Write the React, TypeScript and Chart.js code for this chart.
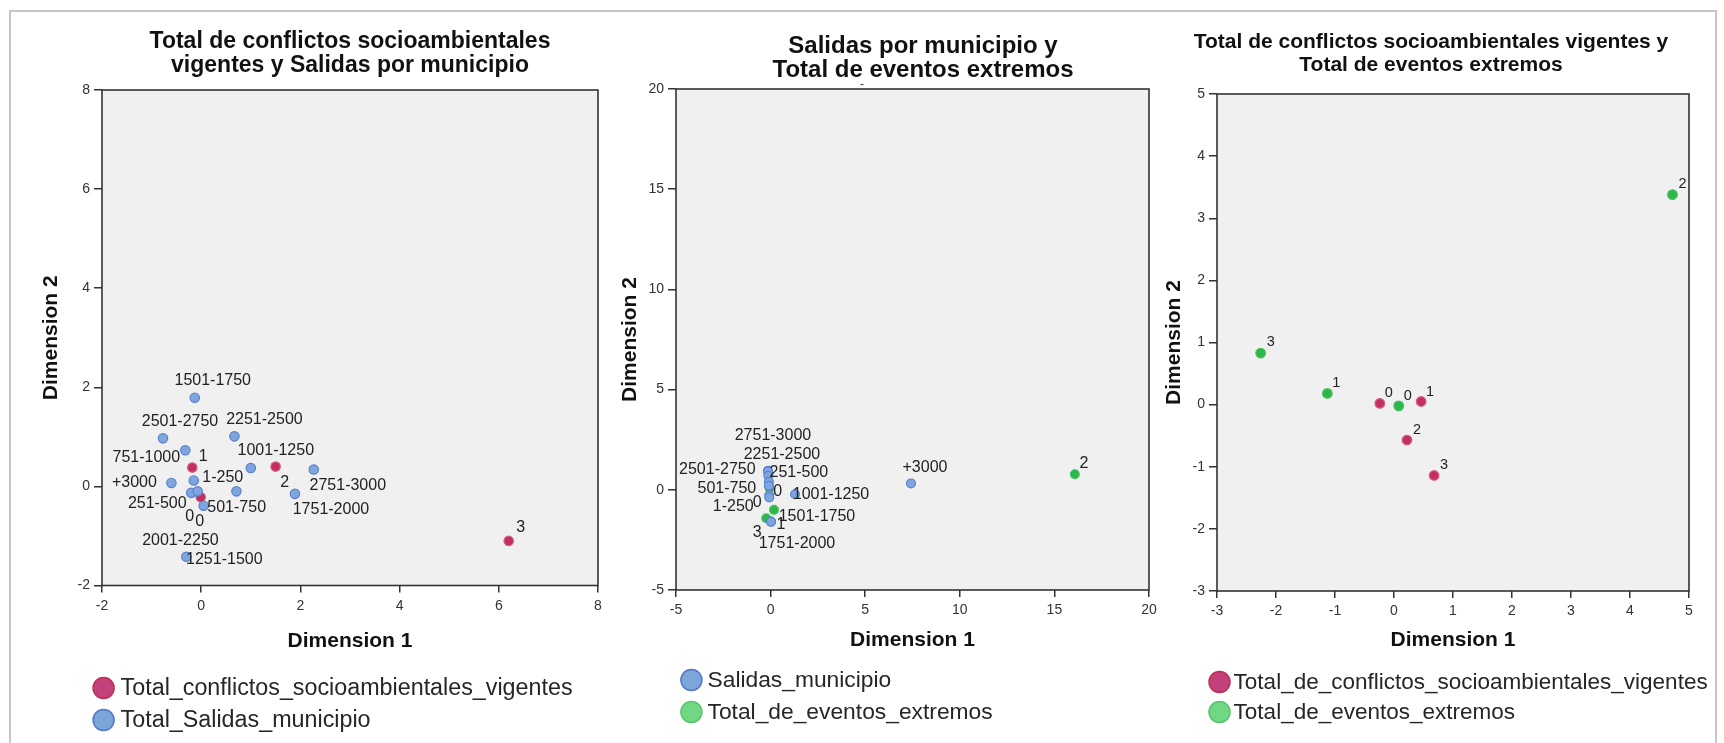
import React, { useEffect, useRef } from "react";
import { Chart, registerables } from "chart.js";

Chart.register(...registerables);

const FONT = "'Liberation Sans', Arial, sans-serif";

// ---------- Panel 1: Total de conflictos socioambientales vigentes y Salidas por municipio
const p1Title = ["Total de conflictos socioambientales", "vigentes y Salidas por municipio"];
const p1ConflictosNames = ["1", "2", "0", "3"];
const p1ConflictosX = [-0.18, 1.5, -0.01, 6.2];
const p1ConflictosY = [0.38, 0.4, -0.22, -1.1];
const p1SalidasNames = ["1501-1750", "2501-2750", "2251-2500", "751-1000", "1001-1250", "2751-3000", "+3000", "1-250", "251-500", "0", "501-750", "1751-2000", "2001-2250", "1251-1500"];
const p1SalidasX = [-0.13, -0.77, 0.67, -0.32, 1.0, 2.27, -0.6, -0.15, -0.2, -0.07, 0.05, 1.89, 0.71, -0.3];
const p1SalidasY = [1.79, 0.97, 1.01, 0.73, 0.37, 0.34, 0.07, 0.12, -0.13, -0.1, -0.39, -0.15, -0.1, -1.42];
const p1XTicks = { min: -2, max: 8, step: 2 };
const p1YTicks = { min: -2, max: 8, step: 2 };

// ---------- Panel 2: Salidas por municipio y Total de eventos extremos
const p2Title = ["Salidas por municipio y", "Total de eventos extremos"];
const p2SalidasNames = ["2251-2500", "2751-3000", "2501-2750", "251-500", "501-750", "1-250", "0", "1001-1250", "1501-1750", "1751-2000", "+3000"];
const p2SalidasX = [-0.14, -0.14, -0.12, -0.09, -0.09, -0.07, -0.07, 1.29, 0.02, 0.02, 7.42];
const p2SalidasY = [0.95, 0.92, 0.7, 0.4, 0.2, -0.27, -0.38, -0.22, -1.58, -1.6, 0.32];
const p2EventosNames = ["0", "1", "3", "2"];
const p2EventosX = [-0.05, 0.18, -0.23, 16.08];
const p2EventosY = [0.08, -1.0, -1.42, 0.78];
const p2XTicks = { min: -5, max: 20, step: 5 };
const p2YTicks = { min: -5, max: 20, step: 5 };

// ---------- Panel 3: Total de conflictos socioambientales vigentes y Total de eventos extremos
const p3Title = ["Total de conflictos socioambientales vigentes y", "Total de eventos extremos"];
const p3ConflictosNames = ["0", "1", "2", "3"];
const p3ConflictosX = [-0.24, 0.46, 0.22, 0.68];
const p3ConflictosY = [0.02, 0.05, -0.57, -1.14];
const p3EventosNames = ["3", "1", "0", "2"];
const p3EventosX = [-2.26, -1.13, 0.08, 4.72];
const p3EventosY = [0.83, 0.18, -0.02, 3.38];
const p3XTicks = { min: -3, max: 5, step: 1 };
const p3YTicks = { min: -3, max: 5, step: 1 };

// ---------- label placement (pixel offsets of each point's text from its point)
const p1ConflictosOffsets = [[11, -11], [9, 16], [-11, 19], [12, -13]];
const p1SalidasOffsets = [[18, -17], [17, -17], [30, -17], [-39, 7], [25, -17], [34, 16], [-37, 0], [29, -3], [-34, 11], [2, 30], [33, 2], [36, 16], [-56, 49], [38, 3]];
const p2SalidasOffsets = [[14, -16], [5, -36], [-51, -6], [30, -9], [-42, 3], [-36, 11], [-12, 5], [36, 0], [46, -5], [26, 22], [14, -16]];
const p2EventosOffsets = [[8, 3], [7, 15], [-9, 14], [9, -11]];
const p3ConflictosOffsets = [[9, -10], [9, -10], [10, -10], [10, -10]];
const p3EventosOffsets = [[10, -11], [9, -10], [9, -10], [10, -11]];

const RED = { fill: "#c4305e", stroke: "#d25c82", lfill: "#c2417a", lstroke: "#c22c52" };
const BLUE = { fill: "#7ea6de", stroke: "#5a80cc", lfill: "#7aa7d8", lstroke: "#5473cc" };
const GREEN = { fill: "#2cb74b", stroke: "#43c15e", lfill: "#70d884", lstroke: "#56c46b" };

type Series = {
  label: string;
  xs: number[];
  ys: number[];
  names: string[];
  offsets: number[][];
  color: { fill: string; stroke: string; lfill: string; lstroke: string };
};

type PanelCfg = {
  left: number;
  width: number;
  area: { l: number; t: number; r: number; b: number };
  xt: { min: number; max: number; step: number };
  yt: { min: number; max: number; step: number };
  title: string[];
  titleFont: number;
  titleX: number;
  titleYs: number[];
  yTitlePad: number;
  xTitlePad: number;
  legend: { cx: number; ys: number[]; tx: number; font: number };
  labelFont: number;
  radius: number;
  series: Series[];
  dash?: { x: number; y: number };
};

const H = 743;

const panels: PanelCfg[] = [
  {
    left: 0,
    width: 620,
    area: { l: 102, t: 90, r: 598, b: 585.5 },
    xt: p1XTicks,
    yt: p1YTicks,
    title: p1Title,
    titleFont: 23,
    titleX: 350,
    titleYs: [42, 66],
    yTitlePad: 39,
    xTitlePad: 89,
    legend: { cx: 103.6, ys: [688, 720], tx: 120.6, font: 23.3 },
    labelFont: 16,
    radius: 4.7,
    series: [
      { label: "Total_Salidas_municipio", xs: p1SalidasX, ys: p1SalidasY, names: p1SalidasNames, offsets: p1SalidasOffsets, color: BLUE },
      { label: "Total_conflictos_socioambientales_vigentes", xs: p1ConflictosX, ys: p1ConflictosY, names: p1ConflictosNames, offsets: p1ConflictosOffsets, color: RED },
    ],
  },
  {
    left: 590,
    width: 600,
    area: { l: 86, t: 89, r: 559, b: 590 },
    xt: p2XTicks,
    yt: p2YTicks,
    title: p2Title,
    titleFont: 24,
    titleX: 333,
    titleYs: [46, 70],
    yTitlePad: 27.4,
    xTitlePad: 90.4,
    legend: { cx: 101.4, ys: [680, 712], tx: 117.5, font: 22.8 },
    labelFont: 16,
    radius: 4.4,
    series: [
      { label: "Salidas_municipio", xs: p2SalidasX, ys: p2SalidasY, names: p2SalidasNames, offsets: p2SalidasOffsets, color: BLUE },
      { label: "Total_de_eventos_extremos", xs: p2EventosX, ys: p2EventosY, names: p2EventosNames, offsets: p2EventosOffsets, color: GREEN },
    ],
    dash: { x: 272, y: 85 },
  },
  {
    left: 1130,
    width: 594,
    area: { l: 87, t: 94, r: 559, b: 591 },
    xt: p3XTicks,
    yt: p3YTicks,
    title: p3Title,
    titleFont: 21,
    titleX: 301,
    titleYs: [42, 65],
    yTitlePad: 31.4,
    xTitlePad: 90.4,
    legend: { cx: 89.5, ys: [682, 712], tx: 103.6, font: 22.5 },
    labelFont: 14.5,
    radius: 4.8,
    series: [
      { label: "Total_de_conflictos_socioambientales_vigentes", xs: p3ConflictosX, ys: p3ConflictosY, names: p3ConflictosNames, offsets: p3ConflictosOffsets, color: RED },
      { label: "Total_de_eventos_extremos", xs: p3EventosX, ys: p3EventosY, names: p3EventosNames, offsets: p3EventosOffsets, color: GREEN },
    ],
  },
];

// legend order as displayed (first line, second line)
const legendOrder: number[][] = [[1, 0], [0, 1], [0, 1]];

function Panel({ cfg, order }: { cfg: PanelCfg; order: number[] }) {
  const ref = useRef<HTMLCanvasElement | null>(null);
  useEffect(() => {
    const canvas = ref.current;
    if (!canvas) return;
    const W = cfg.width;
    const decor = {
      id: "decor",
      beforeDraw(chart: any) {
        const { ctx, chartArea: a } = chart;
        ctx.save();
        ctx.fillStyle = "#f0f0f0";
        ctx.fillRect(a.left, a.top, a.right - a.left, a.bottom - a.top);
        ctx.restore();
      },
      afterDraw(chart: any) {
        const { ctx, chartArea: a } = chart;
        ctx.save();
        // frame
        ctx.strokeStyle = "#333333";
        ctx.lineWidth = 1.6;
        ctx.strokeRect(a.left, a.top, a.right - a.left, a.bottom - a.top);
        // point labels
        ctx.fillStyle = "#222222";
        ctx.font = `${cfg.labelFont}px ${FONT}`;
        ctx.textAlign = "center";
        ctx.textBaseline = "middle";
        cfg.series.forEach((s, di) => {
          const meta = chart.getDatasetMeta(di);
          meta.data.forEach((el: any, j: number) => {
            const off = s.offsets[j] || [8, -10];
            ctx.fillText(s.names[j], el.x + off[0], el.y + off[1]);
          });
        });
        // title
        ctx.fillStyle = "#111111";
        ctx.font = `bold ${cfg.titleFont}px ${FONT}`;
        cfg.title.forEach((t, k) => ctx.fillText(t, cfg.titleX, cfg.titleYs[k]));
        if (cfg.dash) {
          ctx.font = `12px ${FONT}`;
          ctx.fillStyle = "#333333";
          ctx.fillText("-", cfg.dash.x, cfg.dash.y);
        }
        // legend
        ctx.textAlign = "left";
        ctx.font = `${cfg.legend.font}px ${FONT}`;
        order.forEach((di, k) => {
          const s = cfg.series[di];
          const y = cfg.legend.ys[k];
          ctx.beginPath();
          ctx.arc(cfg.legend.cx, y, 10.5, 0, Math.PI * 2);
          ctx.fillStyle = s.color.lfill;
          ctx.fill();
          ctx.lineWidth = 1.5;
          ctx.strokeStyle = s.color.lstroke;
          ctx.stroke();
          ctx.fillStyle = "#262626";
          ctx.fillText(s.label, cfg.legend.tx, y + 1);
        });
        ctx.restore();
      },
    };
    const chart = new Chart(canvas, {
      type: "scatter",
      data: {
        datasets: cfg.series.map((s) => ({
          label: s.label,
          data: s.xs.map((x, i) => ({ x, y: s.ys[i] })),
          backgroundColor: s.color.fill,
          borderColor: s.color.stroke,
          borderWidth: 1.2,
          pointRadius: cfg.radius,
          pointHoverRadius: cfg.radius,
        })),
      },
      options: {
        responsive: false,
        animation: false,
        devicePixelRatio: 1,
        events: [],
        layout: { padding: { left: 0, top: cfg.area.t, right: W - cfg.area.r, bottom: 0 } },
        plugins: { legend: { display: false }, tooltip: { enabled: false }, title: { display: false } },
        scales: {
          x: {
            type: "linear",
            position: "bottom",
            min: cfg.xt.min,
            max: cfg.xt.max,
            ticks: { stepSize: cfg.xt.step, color: "#333333", font: { size: 14, family: FONT }, padding: 5, maxRotation: 0, autoSkip: false },
            grid: { drawOnChartArea: false, drawTicks: true, tickLength: 7, color: "#333333", lineWidth: 1.5 },
            border: { display: false },
            title: { display: true, text: "Dimension 1", color: "#111111", font: { size: 21, weight: "bold", family: FONT }, padding: { top: 0, bottom: cfg.xTitlePad } },
            afterFit: (s: any) => { s.height = H - cfg.area.b; },
          },
          y: {
            type: "linear",
            position: "left",
            min: cfg.yt.min,
            max: cfg.yt.max,
            ticks: { stepSize: cfg.yt.step, color: "#333333", font: { size: 14, family: FONT }, padding: 4, autoSkip: false },
            grid: { drawOnChartArea: false, drawTicks: true, tickLength: 8, color: "#333333", lineWidth: 1.5 },
            border: { display: false },
            title: { display: true, text: "Dimension 2", color: "#111111", font: { size: 21, weight: "bold", family: FONT }, padding: { top: cfg.yTitlePad, bottom: 0 } },
            afterFit: (s: any) => { s.width = cfg.area.l; },
          },
        },
      } as any,
      plugins: [decor],
    });
    return () => chart.destroy();
  }, []);
  return (
    <canvas
      ref={ref}
      width={cfg.width}
      height={H}
      style={{ position: "absolute", left: cfg.left, top: 0, width: cfg.width, height: H }}
    />
  );
}

export default function App() {
  return (
    <div style={{ position: "absolute", left: 0, top: 0, width: 1724, height: 743, overflow: "hidden", background: "#ffffff" }}>
      <div
        style={{
          position: "absolute",
          left: 9,
          top: 10,
          width: 1708,
          height: 780,
          boxSizing: "border-box",
          border: "2px solid #c6c6c6",
        }}
      />
      {panels.map((p, i) => (
        <Panel key={i} cfg={p} order={legendOrder[i]} />
      ))}
    </div>
  );
}
